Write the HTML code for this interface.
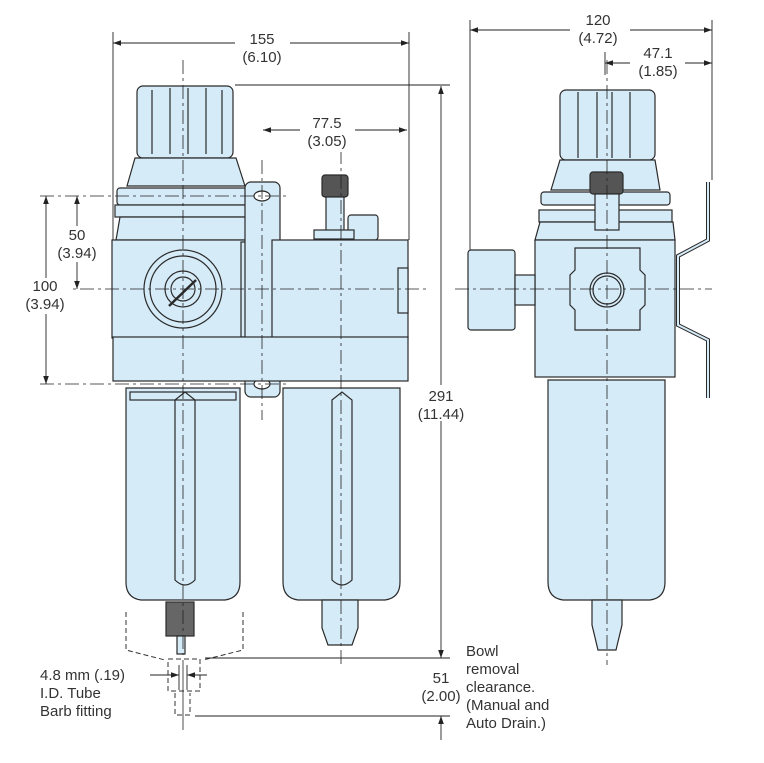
<!DOCTYPE html>
<html><head><style>
html,body{margin:0;padding:0;background:#fff;}
svg{display:block;font-family:"Liberation Sans",sans-serif;}
</style></head><body>
<svg width="764" height="763" viewBox="0 0 764 763" xmlns="http://www.w3.org/2000/svg">
<defs>
<marker id="a" viewBox="0 0 10 10" refX="10" refY="5" markerWidth="9" markerHeight="9" orient="auto-start-reverse"><path d="M0,1.5 L10,5 L0,8.5 Z" fill="#222"/></marker>
</defs>
<g fill="#d6ebf8" stroke="#2a2a2a" stroke-width="1.2">
<!-- left unit -->
<rect x="137" y="86" width="96" height="72" rx="6"/>
<line x1="152" y1="90" x2="152" y2="154"/><line x1="170" y1="88" x2="170" y2="154"/><line x1="188" y1="88" x2="188" y2="154"/><line x1="206" y1="88" x2="206" y2="154"/><line x1="222" y1="90" x2="222" y2="154"/>
<path d="M135,158 H236 L245,186 H127 Z"/>
<rect x="117" y="188" width="133" height="17" rx="3"/>
<rect x="115" y="205" width="137" height="12"/>
<path d="M120,217 H248 L252,240 H116 Z"/>
<rect x="112" y="240" width="142" height="98"/>
<circle cx="183" cy="289" r="39"/><circle cx="183" cy="289" r="33"/><circle cx="183" cy="289" r="18"/><circle cx="183" cy="289" r="12"/>
<line x1="169" y1="306" x2="196" y2="280" stroke-width="2.5"/>
<rect x="241" y="242" width="43" height="95"/>
<path d="M247,262 Q262,230 277,262 Z M247,315 Q262,350 277,315 Z" fill="none"/>
<circle cx="262" cy="289" r="7"/>
<!-- bracket -->
<rect x="245" y="182" width="35" height="215" rx="6" fill="#d6ebf8"/>
<ellipse cx="262" cy="196" rx="8" ry="5" fill="#fff"/><ellipse cx="262" cy="384" rx="8" ry="5" fill="#fff"/>
<!-- lubricator -->
<rect x="322" y="175" width="26" height="22" rx="3" fill="#555"/>
<rect x="326" y="197" width="18" height="35"/>
<rect x="348" y="215" width="30" height="25" rx="3"/>
<rect x="314" y="230" width="40" height="9"/>
<rect x="272" y="240" width="136" height="98"/>
<rect x="398" y="268" width="10" height="45"/>
<rect x="113" y="337" width="295" height="44"/>
<!-- bowls -->
<path d="M126,388 H240 V582 Q240,598 225,600 H141 Q126,598 126,582 Z"/>
<rect x="130" y="392" width="106" height="8" fill="none"/>
<path d="M175,400 L185,392 L195,400 V580 Q185,590 175,580 Z" fill="none"/>
<rect x="166" y="602" width="28" height="34" fill="#666"/>
<rect x="177" y="636" width="8" height="18"/>
<path d="M283,388 H400 V582 Q400,598 385,600 H298 Q283,598 283,582 Z"/>
<path d="M332,400 L342,392 L352,400 V580 Q342,590 332,580 Z" fill="none"/>
<path d="M322,600 H358 V628 L352,645 H328 L322,628 Z"/>
<!-- right view -->
<rect x="560" y="90" width="95" height="70" rx="6"/>
<line x1="578" y1="92" x2="578" y2="158"/><line x1="597" y1="92" x2="597" y2="158"/><line x1="612" y1="92" x2="612" y2="158"/><line x1="630" y1="92" x2="630" y2="158"/>
<path d="M560,160 H655 L660,190 H551 Z"/>
<rect x="541" y="192" width="129" height="13" rx="3"/>
<rect x="539" y="210" width="133" height="12"/>
<path d="M540,222 H673 L675,240 H535 Z"/>
<rect x="590" y="172" width="33" height="22" rx="3" fill="#555"/>
<rect x="595" y="194" width="24" height="36"/>
<rect x="535" y="240" width="140" height="137"/>
<path d="M575,248 H640 V270 L645,275 V305 L640,310 V330 H575 V310 L570,305 V275 L575,270 Z" fill="none"/>
<circle cx="607" cy="290" r="17"/><circle cx="607" cy="290" r="14"/>
<rect x="468" y="250" width="47" height="80" rx="3"/>
<rect x="515" y="275" width="20" height="30"/>
<path d="M548,380 H665 V582 Q665,598 650,600 H563 Q548,598 548,582 Z"/>
<path d="M592,600 H622 V625 L616,650 H598 L592,625 Z"/>
<path d="M708,182 V240 L678,256 V325 L708,340 V398" fill="none" stroke-width="4" stroke="#2a2a2a"/>
<path d="M708,182 V240 L678,256 V325 L708,340 V398" fill="none" stroke-width="2" stroke="#d6ebf8"/>
</g>
<!-- dashed outlines -->
<g fill="none" stroke="#333" stroke-width="1" stroke-dasharray="5,3">
<path d="M126,612 V650 L165,660 M243,612 V650 L203,660"/>
<rect x="168" y="659" width="32" height="32"/>
<path d="M175,693 V715 H190 V693"/>
</g>
<!-- centre lines -->
<g stroke="#222" stroke-width="0.8" stroke-dasharray="14,4,3,4" fill="none">
<line x1="183" y1="60" x2="183" y2="655"/>
<line x1="262" y1="160" x2="262" y2="420"/>
<line x1="341" y1="150" x2="341" y2="665"/>
<line x1="607" y1="60" x2="607" y2="665"/>
<line x1="30" y1="289" x2="430" y2="289"/>
<line x1="455" y1="289" x2="712" y2="289"/>
<line x1="40" y1="196" x2="290" y2="196"/>
<line x1="40" y1="384" x2="290" y2="384"/>
<line x1="183" y1="660" x2="183" y2="730" stroke-dasharray="none"/>
</g>
<!-- dimension lines -->
<g stroke="#222" stroke-width="0.9" fill="none">
<line x1="113" y1="32" x2="113" y2="240"/><line x1="409" y1="32" x2="409" y2="240"/>
<line x1="113" y1="43" x2="409" y2="43" marker-start="url(#a)" marker-end="url(#a)"/>
<line x1="263" y1="130" x2="407" y2="130" marker-start="url(#a)" marker-end="url(#a)"/>
<line x1="235" y1="85" x2="450" y2="85"/>
<line x1="441" y1="86" x2="441" y2="658" marker-start="url(#a)" marker-end="url(#a)"/>
<line x1="441" y1="716" x2="441" y2="740" marker-start="url(#a)"/>
<line x1="205" y1="658" x2="450" y2="658"/><line x1="195" y1="716" x2="450" y2="716"/>
<line x1="77" y1="196" x2="77" y2="289" marker-start="url(#a)" marker-end="url(#a)"/>
<line x1="46" y1="196" x2="46" y2="384" marker-start="url(#a)" marker-end="url(#a)"/>
<line x1="470" y1="20" x2="470" y2="250"/><line x1="712" y1="20" x2="712" y2="180"/>
<line x1="470" y1="30" x2="712" y2="30" marker-start="url(#a)" marker-end="url(#a)"/>
<line x1="605" y1="52" x2="605" y2="75"/>
<line x1="605" y1="63" x2="712" y2="63" marker-start="url(#a)" marker-end="url(#a)"/>
<line x1="179" y1="665" x2="179" y2="690"/><line x1="187" y1="665" x2="187" y2="690"/>
<line x1="150" y1="675" x2="179" y2="675" marker-end="url(#a)"/>
<line x1="207" y1="675" x2="187" y2="675" marker-end="url(#a)"/>
</g>
<g fill="#333" font-size="15" text-anchor="middle">
<rect x="235" y="30" width="55" height="36" fill="#fff"/>
<text x="262" y="44">155</text><text x="262" y="62">(6.10)</text>
<rect x="300" y="116" width="55" height="36" fill="#fff"/>
<text x="327" y="128">77.5</text><text x="327" y="146">(3.05)</text>
<rect x="60" y="226" width="40" height="36" fill="#fff"/>
<text x="77" y="240">50</text><text x="77" y="258">(3.94)</text>
<rect x="20" y="278" width="52" height="36" fill="#fff"/>
<text x="45" y="291">100</text><text x="45" y="309">(3.94)</text>
<rect x="415" y="385" width="52" height="36" fill="#fff"/>
<text x="441" y="401">291</text><text x="441" y="419">(11.44)</text>
<rect x="570" y="10" width="60" height="36" fill="#fff"/>
<text x="598" y="25">120</text><text x="598" y="43">(4.72)</text>
<rect x="630" y="42" width="55" height="36" fill="#fff"/>
<text x="658" y="58">47.1</text><text x="658" y="76">(1.85)</text>
<text x="441" y="683">51</text><text x="441" y="701">(2.00)</text>
<g text-anchor="start">
<text x="466" y="656">Bowl</text><text x="466" y="674">removal</text><text x="466" y="692">clearance.</text><text x="466" y="710">(Manual and</text><text x="466" y="728">Auto Drain.)</text>
<text x="40" y="680">4.8 mm (.19)</text><text x="40" y="698">I.D. Tube</text><text x="40" y="716">Barb fitting</text>
</g>
</g>
</svg>
</body></html>
